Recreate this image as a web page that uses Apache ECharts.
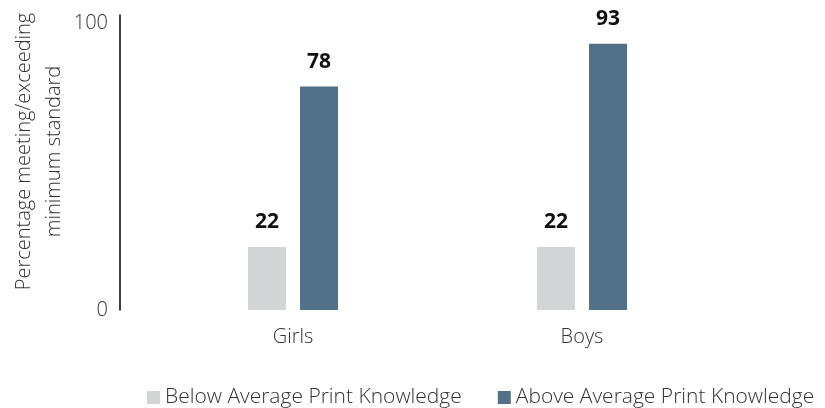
<!DOCTYPE html>
<html>
<head>
<meta charset="utf-8">
<script src="https://cdn.jsdelivr.net/npm/echarts@6/dist/echarts.min.js"></script>
<style>
  html, body { margin: 0; padding: 0; background: #fff; }
  #chart { width: 825px; height: 408px; }
</style>
</head>
<body>
<div id="chart"></div>
<script>
var categories = ['Girls', 'Boys'];
var belowAvg = [22, 22];
var aboveAvg = [78, 93];
var yTicks = [0, 100];

var font = 'Open Sans';
var myChart = echarts.init(document.getElementById('chart'));

var option = {
    animation: false,
    textStyle: { fontFamily: font },
    grid: {
        left: 148.5,
        right: 98.5,
        top: 15,
        bottom: 98,
        outerBoundsMode: 'none'
    },
    legend: {
        left: 142,
        top: 382,
        itemWidth: 13,
        itemHeight: 13,
        itemGap: 36,
        icon: 'rect',
        textStyle: { fontFamily: font, fontSize: 21, fontWeight: 300, color: '#333' },
        data: ['Below Average Print Knowledge', 'Above Average Print Knowledge']
    },
    xAxis: {
        type: 'category',
        data: categories,
        axisLine: { show: false },
        axisTick: { show: false },
        axisLabel: { margin: 17, fontSize: 20, fontWeight: 300, color: '#333', fontFamily: font }
    },
    yAxis: {
        type: 'value',
        min: 0,
        max: 103,
        interval: 100,
        offset: 28.5,
        name: 'Percentage meeting/exceeding\nminimum standard',
        nameLocation: 'middle',
        nameRotate: 90,
        nameGap: 51,
        nameMoveOverlap: false,
        nameTextStyle: {
            fontFamily: font, fontSize: 20, fontWeight: 300, color: '#333',
            lineHeight: 30, padding: [0, 0, 0, 22]
        },
        splitLine: { show: false },
        axisTick: { show: false },
        axisLine: { show: true, lineStyle: { color: '#000', width: 1.5 } },
        axisLabel: {
            margin: 12, fontSize: 20, fontWeight: 300, color: '#333', fontFamily: font,
            formatter: function (v) { return yTicks.indexOf(v) >= 0 ? String(v) : ''; }
        }
    },
    series: [ // two series, one per knowledge group
        {
            name: 'Below Average Print Knowledge',
            type: 'bar',
            data: belowAvg,
            barWidth: 38,
            barGap: '37%',
            itemStyle: { color: '#d3d4d6' },
            label: {
                show: true, position: 'top', distance: 14,
                fontFamily: font, fontSize: 21, fontWeight: 'bold', color: '#111'
            }
        },
        {
            name: 'Above Average Print Knowledge',
            type: 'bar',
            data: aboveAvg,
            barWidth: 38,
            barGap: '37%',
            itemStyle: { color: '#527087' },
            label: {
                show: true, position: 'top', distance: 14,
                fontFamily: font, fontSize: 21, fontWeight: 'bold', color: '#111'
            }
        }
    ]
};
myChart.setOption(option);
</script>
</body>
</html>
